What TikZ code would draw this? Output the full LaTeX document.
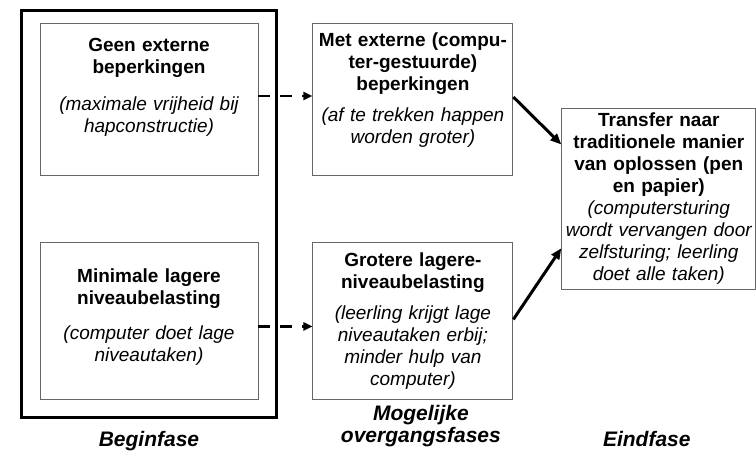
\documentclass[tikz,border=0pt]{standalone}
\usepackage{fontspec}
\setmainfont{Liberation Sans}
\usetikzlibrary{positioning,calc,arrows.meta}

\tikzset{
	vak/.style={draw=black!60, line width=0.9pt, inner sep=0pt},
	kader/.style={draw=black, line width=2.5pt},
	tekst/.style={text width=230pt, align=center, inner sep=0pt, font=\fontsize{19}{22}\selectfont},
	fase/.style={inner sep=0pt, align=center, font=\fontsize{21}{22}\selectfont\bfseries\itshape},
	stippel/.style={line width=2.5pt, dash pattern=on 12pt off 10pt, -{Triangle[length=9pt,width=8pt]}},
	pijl/.style={line width=3pt, -{Triangle[length=11pt,width=9pt]}},
}

\begin{document}
\begin{tikzpicture}[x=1pt, y=-1pt, node distance=54pt]
	\useasboundingbox (0,0) rectangle (756,451);

	% boxes
	\node(geen) [vak, minimum width=218pt, minimum height=152pt] at (149,99) {};
	\node(minimaal) [vak, minimum width=218pt, minimum height=157pt, below=67pt of geen] {};
	\node(met) [vak, minimum width=200pt, minimum height=152pt, right=of geen] {};
	\node(groter) [vak, minimum width=200pt, minimum height=157pt, right=of minimaal] {};
	\coordinate(midden) at ($(met.east)!0.45!(groter.east)$);
	\node(transfer) [vak, minimum width=194pt, minimum height=181pt, right=48pt of midden] {};

	\draw[kader] ($(geen.north west)+(-18,-12)$) rectangle ($(minimaal.south east)+(18,17)$);

	% texts
	\node(geentekst) [tekst, below=15pt of geen.north] {{\bfseries Geen externe\\beperkingen}\\[15pt]{\itshape (maximale vrijheid bij\\hapconstructie)}};
	\node(minimaaltekst) [tekst, below=26pt of minimaal.north] {{\bfseries Minimale lagere\\niveaubelasting}\\[13pt]{\itshape (computer doet lage\\niveautaken)}};
	\node(mettekst) [tekst, below=10pt of met.north] {{\bfseries Met externe (compu-\\ter-gestuurde)\\beperkingen}\\[9pt]{\itshape (af te trekken happen\\worden groter)}};
	\node(grotertekst) [tekst, below=10pt of groter.north] {{\bfseries Grotere lagere-\\niveaubelasting}\\[9pt]{\itshape (leerling krijgt lage\\niveautaken erbij;\\minder hulp van\\computer)}};
	\node(transfertekst) [tekst, below=4pt of transfer.north] {{\bfseries Transfer naar\\traditionele manier\\van oplossen (pen\\en papier)}\\{\itshape (computersturing\\wordt vervangen door\\zelfsturing; leerling\\doet alle taken)}};

	\node(begin) [fase, below=31pt of minimaal.south] {Beginfase};
	\node(mogelijk) [fase, below=5pt of groter.south, xshift=8pt] {Mogelijke\\overgangsfases};
	\node(eind) [fase, anchor=base, xshift=-12pt] at (transfer |- begin.base) {Eindfase};

	% arrows
	\draw[stippel] ([yshift=3pt]geen.east) -- ([yshift=3pt]met.west);
	\draw[stippel] ([yshift=-5pt]minimaal.east) -- ([yshift=-5pt]groter.west);
	\draw[pijl] ([yshift=2pt]met.east) -- ($(transfer.north west)!0.2!(transfer.south west)$);
	\draw[pijl] ([yshift=2pt]groter.east) -- ($(transfer.north west)!0.77!(transfer.south west)$);
\end{tikzpicture}
\end{document}
